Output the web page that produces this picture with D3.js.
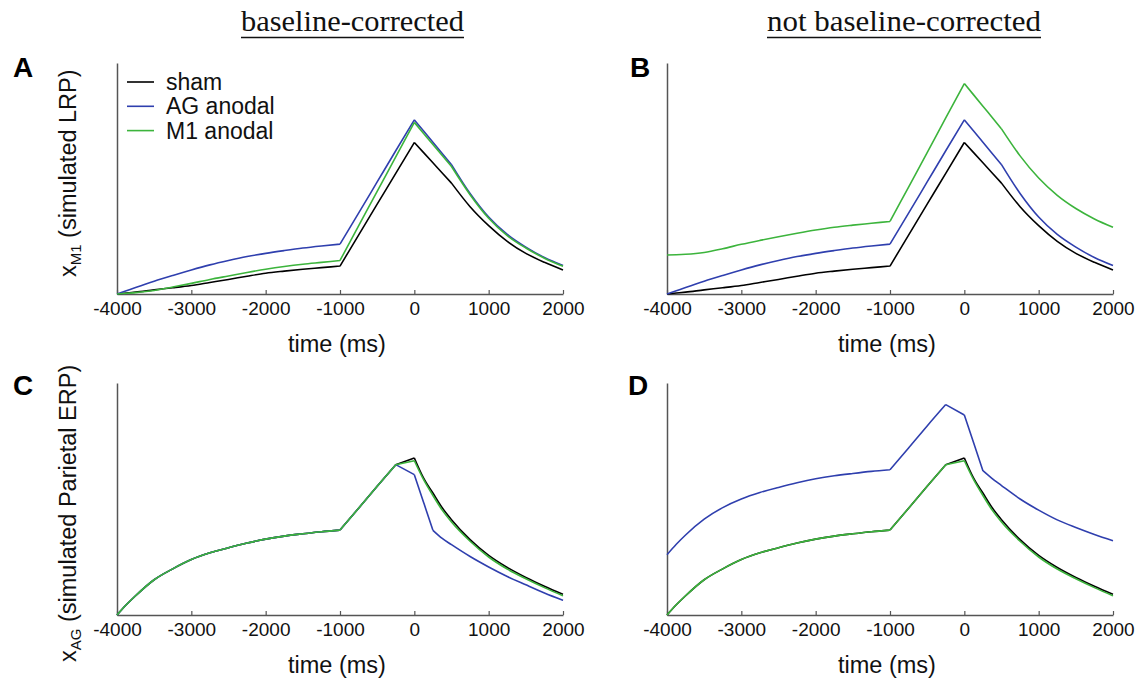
<!DOCTYPE html>
<html>
<head>
<meta charset="utf-8">
<script src="https://cdn.jsdelivr.net/npm/d3@7/dist/d3.min.js"></script>
<style>
  html, body { margin: 0; padding: 0; background: #fff; }
  svg { display: block; }
</style>
</head>
<body>
<svg id="chart" width="1138" height="680"></svg>
<script>
// ---------------- data ----------------
const timeMs = [-4000,-3875,-3750,-3500,-3250,-3000,-2750,-2500,-2250,-2000,-1750,-1500,-1250,-1000,
                -750,-500,-250,0,125,250,375,500,750,1000,1250,1500,1750,2000];

const xTicks = [-4000,-3000,-2000,-1000,0,1000,2000];
const seriesNames = ["sham", "AG anodal", "M1 anodal"];
const seriesColors = ["#000000", "#2f3fae", "#3cb43c"];
const columnTitles = ["baseline-corrected", "not baseline-corrected"];
const yLabelsMain = ["x", "x"];
const yLabelsSub = ["M1", "AG"];
const yLabelsRest = [" (simulated LRP)", " (simulated Parietal ERP)"];
const xLabel = "time (ms)";
const panelLetters = ["A", "B", "C", "D"];
// times where the simulated curves have corners (top row, bottom row)
const cornerTimes = [[-1000, 0, 500], [-1000, -250, 0, 250]];

// M1 node (simulated LRP), normalised units
const lrpSham   = [0,0.004,0.008,0.018,0.027,0.037,0.050,0.063,0.077,0.090,0.099,0.107,0.114,0.121,
                   0.255,0.389,0.522,0.656,0.612,0.568,0.524,0.480,0.378,0.296,0.228,0.176,0.137,0.104];
const lrpAG     = [0,0.014,0.028,0.055,0.080,0.104,0.126,0.145,0.162,0.176,0.188,0.199,0.208,0.216,
                   0.350,0.485,0.620,0.754,0.706,0.657,0.608,0.560,0.435,0.333,0.258,0.203,0.158,0.123];
const lrpM1Base = [0,0.003,0.006,0.015,0.030,0.046,0.063,0.078,0.093,0.107,0.119,0.129,0.137,0.145,
                   0.295,0.444,0.594,0.743,0.695,0.647,0.600,0.552,0.430,0.328,0.253,0.199,0.155,0.120];
const lrpM1Raw  = [0.169,0.170,0.172,0.180,0.196,0.215,0.232,0.248,0.263,0.277,0.289,0.298,0.306,0.314,
                   0.463,0.612,0.762,0.911,0.862,0.813,0.764,0.715,0.598,0.502,0.427,0.370,0.325,0.289];

// AG node (simulated parietal ERP), normalised units
const erpSham   = [0,0.044,0.083,0.152,0.199,0.239,0.268,0.290,0.310,0.327,0.340,0.350,0.359,0.366,
                   0.460,0.555,0.648,0.677,0.590,0.526,0.462,0.411,0.325,0.257,0.205,0.162,0.124,0.089];
const erpAGBase = [0,0.044,0.083,0.152,0.199,0.239,0.268,0.290,0.310,0.327,0.340,0.350,0.359,0.366,
                   0.460,0.555,0.648,0.605,0.485,0.365,0.330,0.303,0.252,0.207,0.166,0.130,0.095,0.063];
const erpAGRaw  = [0.260,0.305,0.345,0.413,0.463,0.500,0.528,0.550,0.570,0.587,0.600,0.610,0.619,0.626,
                   0.720,0.815,0.907,0.862,0.742,0.622,0.588,0.558,0.500,0.452,0.410,0.377,0.347,0.320];
const erpM1     = [0,0.044,0.083,0.152,0.199,0.239,0.268,0.290,0.310,0.327,0.340,0.350,0.359,0.366,
                   0.460,0.555,0.648,0.665,0.583,0.515,0.452,0.401,0.318,0.250,0.198,0.156,0.118,0.083];

// draw order per panel: sham, AG, M1 (index into seriesNames/colors)
const panelSeries = [
  [lrpSham, lrpAG, lrpM1Base],   // A
  [lrpSham, lrpAG, lrpM1Raw],    // B
  [erpSham, erpAGBase, erpM1],   // C
  [erpSham, erpAGRaw, erpM1]     // D
];

// ---------------- layout ----------------
const svg = d3.select("#chart");
const sans = "'Liberation Sans', Arial, Helvetica, sans-serif";
const serif = "'Liberation Serif', 'Times New Roman', serif";

const colLeft = [117, 667];
const rowTop = [63, 383];
const rowBottom = [294, 615];
const plotW = 446;

// column titles
const titleCfg = [{cx: 352.5, w: 223}, {cx: 904, w: 274}];
columnTitles.forEach((t, i) => {
  svg.append("text")
    .attr("x", titleCfg[i].cx).attr("y", 31)
    .attr("text-anchor", "middle")
    .attr("font-family", serif).attr("font-size", 29)
    .attr("textLength", titleCfg[i].w).attr("lengthAdjust", "spacingAndGlyphs")
    .attr("fill", "#111")
    .text(t);
  svg.append("line")
    .attr("x1", titleCfg[i].cx - titleCfg[i].w / 2).attr("x2", titleCfg[i].cx + titleCfg[i].w / 2)
    .attr("y1", 37.5).attr("y2", 37.5)
    .attr("stroke", "#111").attr("stroke-width", 1.6);
});

const letterPos = [[13, 77], [630, 77], [13, 395], [628, 395]];

panelSeries.forEach((series, p) => {
  const row = Math.floor(p / 2), col = p % 2;
  const left = colLeft[col], top = rowTop[row], bottom = rowBottom[row];

  const x = d3.scaleLinear().domain([-4000, 2000]).range([left, left + plotW]);
  const y = d3.scaleLinear().domain([0, 1]).range([bottom, top]);

  const g = svg.append("g");

  // x axis (ticks pointing inward)
  const xAxis = d3.axisBottom(x).tickValues(xTicks).tickFormat(d => String(d))
    .tickSizeInner(-4).tickSizeOuter(0).tickPadding(7.5);
  const gx = g.append("g").attr("transform", `translate(0,${bottom})`).call(xAxis);
  gx.select(".domain").attr("stroke", "#555").attr("stroke-width", 1.5);
  gx.selectAll(".tick line").attr("stroke", "#555").attr("stroke-width", 1.2);
  gx.selectAll(".tick text").attr("font-family", sans).attr("font-size", 19).attr("fill", "#111");

  // y axis (line only)
  const yAxis = d3.axisLeft(y).tickValues([]).tickSizeOuter(0);
  const gy = g.append("g").attr("transform", `translate(${left},0)`).call(yAxis);
  gy.select(".domain").attr("stroke", "#555").attr("stroke-width", 1.5);

  // x label
  g.append("text")
    .attr("x", left + plotW / 2 - 3).attr("y", bottom + 58)
    .attr("text-anchor", "middle")
    .attr("font-family", sans).attr("font-size", 23.5).attr("fill", "#111")
    .text(xLabel);

  // curves: smooth between corner times, sharp at corners
  const corners = cornerTimes[row];
  const line = d3.line()
    .x(d => x(d.t))
    .y(d => y(d.v))
    .curve(d3.curveMonotoneX);
  series.forEach((vals, s) => {
    const pts = vals.map((v, i) => ({t: timeMs[i], v}));
    const segs = [];
    let cur = [];
    pts.forEach(pt => {
      cur.push(pt);
      if (corners.includes(pt.t)) { segs.push(cur); cur = [pt]; }
    });
    if (cur.length > 1) segs.push(cur);
    const d = segs.map(sg => line(sg)).join("");
    g.append("path")
      .attr("d", d)
      .attr("fill", "none")
      .attr("stroke", seriesColors[s])
      .attr("stroke-width", 1.6)
      .attr("stroke-linejoin", "round");
  });

  // panel letter
  svg.append("text")
    .attr("x", letterPos[p][0]).attr("y", letterPos[p][1])
    .attr("font-family", sans).attr("font-weight", "bold").attr("font-size", 28)
    .attr("fill", "#000")
    .text(panelLetters[p]);

  // y label (left column only)
  if (col === 0) {
    const startY = row === 0 ? 277 : 662;
    const t = svg.append("text")
      .attr("transform", `translate(76,${startY}) rotate(-90)`)
      .attr("text-anchor", "start")
      .attr("font-family", sans).attr("font-size", 23.5).attr("fill", "#111");
    t.append("tspan").text(yLabelsMain[row]);
    t.append("tspan").attr("font-size", 15).attr("dy", 5).text(yLabelsSub[row]);
    t.append("tspan").attr("dy", -5).text(yLabelsRest[row]);
  }

  // legend in panel A
  if (p === 0) {
    const lg = svg.append("g");
    seriesNames.forEach((name, s) => {
      const by = 90 + s * 24.3;
      lg.append("line")
        .attr("x1", 127).attr("x2", 154)
        .attr("y1", by - 8).attr("y2", by - 8)
        .attr("stroke", seriesColors[s]).attr("stroke-width", 1.6);
      lg.append("text")
        .attr("x", 166).attr("y", by)
        .attr("font-family", sans).attr("font-size", 23).attr("fill", "#111")
        .text(name);
    });
  }
});
</script>
</body>
</html>
